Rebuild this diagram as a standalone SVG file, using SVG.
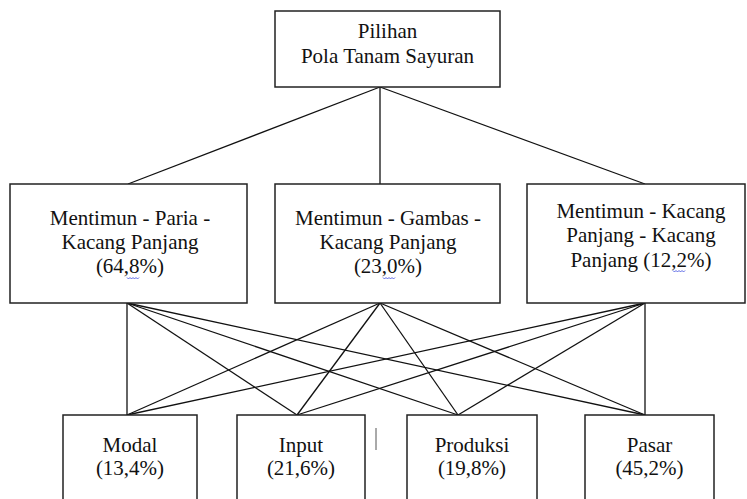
<svg xmlns="http://www.w3.org/2000/svg" width="747" height="499" viewBox="0 0 747 499">
<style>
.box{fill:#fff;stroke:#222;stroke-width:1.5}
text{font-family:'Liberation Serif','Times New Roman',Times,'DejaVu Serif',serif;font-size:21px;fill:#111;text-anchor:middle}
.c line{stroke:#111;stroke-width:1.3}
.sq{fill:none;stroke:#3344dd;stroke-width:0.8}
</style>
<rect width="747" height="499" fill="#fff"/>
<g class="c" id="connectors">
<line x1="380" y1="87" x2="128" y2="184"/>
<line x1="380" y1="87" x2="380" y2="184"/>
<line x1="380" y1="87" x2="645" y2="184"/>
<line x1="127" y1="303" x2="127" y2="415"/>
<line x1="127" y1="303" x2="297" y2="415"/>
<line x1="127" y1="303" x2="458" y2="415"/>
<line x1="127" y1="303" x2="645" y2="415"/>
<line x1="380" y1="303" x2="127" y2="415"/>
<line x1="380" y1="303" x2="297" y2="415"/>
<line x1="380" y1="303" x2="458" y2="415"/>
<line x1="380" y1="303" x2="645" y2="415"/>
<line x1="645" y1="303" x2="127" y2="415"/>
<line x1="645" y1="303" x2="297" y2="415"/>
<line x1="645" y1="303" x2="458" y2="415"/>
<line x1="645" y1="303" x2="645" y2="415"/>
</g>
<g id="root" font-family="Liberation Serif, serif">
<rect class="box" x="275" y="11" width="225" height="76"/>
<text x="387.5" y="37.5">Pilihan</text>
<text x="387.5" y="63">Pola Tanam Sayuran</text>
</g>
<g id="alt1">
<rect class="box" x="10" y="184" width="237" height="119"/>
<text x="130" y="225">Mentimun - Paria -</text>
<text x="130" y="249">Kacang Panjang</text>
<text x="130" y="273">(64,8%)</text>
<path class="sq" d="M127 277.5 l1.5 1.5 l1.5 -1.5 l1.5 1.5 l1.5 -1.5 l1.5 1.5 l1.5 -1.5 l1.5 1.5 l1.5 -1.5"/>
</g>
<g id="alt2">
<rect class="box" x="275" y="184" width="225" height="119"/>
<text x="388" y="225">Mentimun - Gambas -</text>
<text x="388" y="249">Kacang Panjang</text>
<text x="388" y="273">(23,0%)</text>
<path class="sq" d="M383 277.5 l1.5 1.5 l1.5 -1.5 l1.5 1.5 l1.5 -1.5 l1.5 1.5 l1.5 -1.5 l1.5 1.5 l1.5 -1.5"/>
</g>
<g id="alt3">
<rect class="box" x="527" y="184" width="218" height="119"/>
<text x="641" y="218">Mentimun - Kacang</text>
<text x="641" y="242">Panjang - Kacang</text>
<text x="641" y="266.5">Panjang (12,2%)</text>
<path class="sq" d="M673 270.5 l1.5 1.5 l1.5 -1.5 l1.5 1.5 l1.5 -1.5 l1.5 1.5 l1.5 -1.5 l1.5 1.5 l1.5 -1.5"/>
</g>
<g id="modal">
<rect class="box" x="63" y="415" width="134" height="100"/>
<text x="130" y="451.5">Modal</text>
<text x="130" y="475">(13,4%)</text>
</g>
<g id="input">
<rect class="box" x="237" y="415" width="128" height="100"/>
<text x="301" y="451.5">Input</text>
<text x="301" y="475">(21,6%)</text>
</g>
<line x1="376" y1="428" x2="376" y2="450" stroke="#555" stroke-width="1"/>
<g id="produksi">
<rect class="box" x="407" y="415" width="130" height="100"/>
<text x="472" y="451.5">Produksi</text>
<text x="472" y="475">(19,8%)</text>
</g>
<g id="pasar">
<rect class="box" x="585" y="415" width="129" height="100"/>
<text x="649.5" y="451.5">Pasar</text>
<text x="649.5" y="475">(45,2%)</text>
</g>
</svg>
